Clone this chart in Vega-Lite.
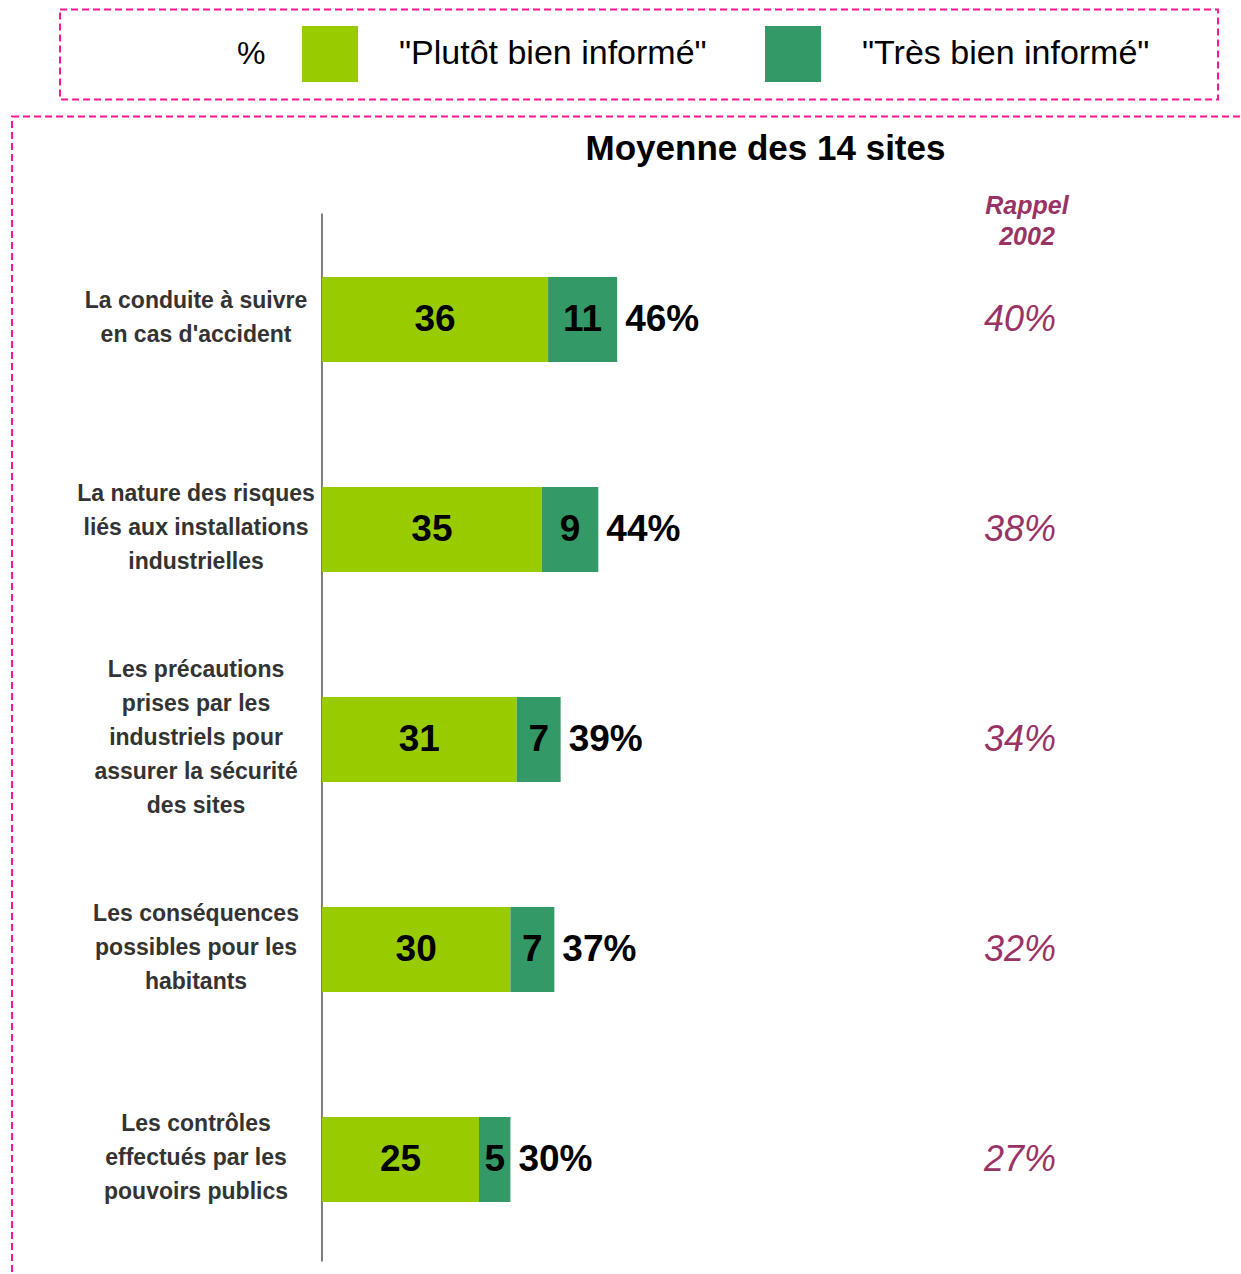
{
  "$schema": "https://vega.github.io/schema/vega-lite/v6.json",
  "width": 1241,
  "height": 1274,
  "autosize": {"type": "none"},
  "padding": 0,
  "background": "white",
  "config": {"view": {"stroke": null}, "font": "Liberation Sans"},
  "title": {
    "text": "Moyenne des 14 sites",
    "anchor": "middle",
    "orient": "top",
    "offset": 0,
    "baseline": "middle",
    "dx": 145,
    "dy": 184,
    "fontSize": 35,
    "fontWeight": "bold",
    "font": "Liberation Sans",
    "color": "black"
  },
  "data": {
    "values": [
      {"categorie": "La conduite à suivre\nen cas d'accident", "rang": 1, "plutot": 36, "tres": 11, "total": 0.46, "rappel": 0.40},
      {"categorie": "La nature des risques\nliés aux installations\nindustrielles", "rang": 2, "plutot": 35, "tres": 9, "total": 0.44, "rappel": 0.38},
      {"categorie": "Les précautions\nprises par les\nindustriels pour\nassurer la sécurité\ndes sites", "rang": 3, "plutot": 31, "tres": 7, "total": 0.39, "rappel": 0.34},
      {"categorie": "Les conséquences\npossibles pour les\nhabitants", "rang": 4, "plutot": 30, "tres": 7, "total": 0.37, "rappel": 0.32},
      {"categorie": "Les contrôles\neffectués par les\npouvoirs publics", "rang": 5, "plutot": 25, "tres": 5, "total": 0.30, "rappel": 0.27}
    ]
  },
  "encoding": {
    "x": {"type": "quantitative", "scale": {"domain": [-51.274, 146.338], "nice": false, "zero": false}, "axis": null},
    "y": {"type": "quantitative", "scale": {"domain": [-0.4978, 5.5212], "nice": false, "zero": false, "reverse": true}, "axis": null}
  },
  "layer": [
    {
      "data": {"values": [{}]},
      "mark": {"type": "rect", "fill": "transparent", "stroke": "#FF1493", "strokeWidth": 2, "strokeDash": [7, 4]},
      "encoding": {
        "x": {"datum": -41.72}, "x2": {"datum": 142.68},
        "y": {"datum": -0.4762}, "y2": {"datum": -0.0476}
      }
    },
    {
      "data": {"values": [{}]},
      "mark": {"type": "rect", "fill": "transparent", "stroke": "#FF1493", "strokeWidth": 2, "strokeDash": [7, 4]},
      "encoding": {
        "x": {"datum": -49.36}, "x2": {"datum": 160},
        "y": {"datum": 0.0333}, "y2": {"datum": 7}
      }
    },
    {
      "data": {"values": [{}]},
      "mark": {"type": "rule", "color": "black", "strokeWidth": 1},
      "encoding": {
        "x": {"datum": 0},
        "y": {"datum": 0.4952}, "y2": {"datum": 5.4857}
      }
    },
    {
      "transform": [
        {"fold": ["plutot", "tres"], "as": ["serie", "valeur"]},
        {"stack": "valeur", "groupby": ["rang"], "sort": [{"field": "serie"}], "as": ["v0", "v1"]}
      ],
      "mark": {"type": "bar", "height": 85},
      "encoding": {
        "x": {"field": "v0", "type": "quantitative"},
        "x2": {"field": "v1"},
        "y": {"field": "rang", "type": "quantitative"},
        "color": {
          "field": "serie",
          "type": "nominal",
          "scale": {"domain": ["plutot", "tres"], "range": ["#99CC00", "#339966"]},
          "legend": {
            "title": "%",
            "orient": "none",
            "legendX": 237,
            "legendY": 26,
            "direction": "horizontal",
            "titleOrient": "left",
            "titleFontSize": 32,
            "titleFontWeight": "normal",
            "titleColor": "black",
            "titleFont": "Liberation Sans",
            "titlePadding": 36,
            "symbolType": "square",
            "symbolSize": 3136,
            "symbolStrokeWidth": 0,
            "symbolOpacity": 1,
            "labelFontSize": 34,
            "labelFont": "Liberation Sans",
            "labelColor": "black",
            "labelOffset": 41,
            "labelLimit": 500,
            "columnPadding": 58,
            "labelExpr": "datum.value == 'plutot' ? '\"Plutôt bien informé\"' : '\"Très bien informé\"'"
          }
        }
      }
    },
    {
      "transform": [
        {"fold": ["plutot", "tres"], "as": ["serie", "valeur"]},
        {"stack": "valeur", "groupby": ["rang"], "sort": [{"field": "serie"}], "as": ["v0", "v1"]},
        {"fold": ["v0", "v1"], "as": ["bord", "pos"]}
      ],
      "mark": {"type": "text", "fontSize": 37, "fontWeight": "bold", "color": "black", "baseline": "middle", "align": "center"},
      "encoding": {
        "x": {"aggregate": "mean", "field": "pos", "type": "quantitative", "stack": null},
        "y": {"field": "rang", "type": "quantitative"},
        "detail": {"field": "serie"},
        "text": {"field": "valeur", "type": "quantitative"}
      }
    },
    {
      "transform": [
        {"fold": ["plutot", "tres"], "as": ["serie", "valeur"]},
        {"aggregate": [{"op": "sum", "field": "valeur", "as": "fin"}], "groupby": ["rang", "total"]}
      ],
      "mark": {"type": "text", "fontSize": 37, "fontWeight": "bold", "color": "black", "baseline": "middle", "align": "left", "dx": 8},
      "encoding": {
        "x": {"field": "fin", "type": "quantitative"},
        "y": {"field": "rang", "type": "quantitative"},
        "text": {"field": "total", "type": "quantitative", "format": ".0%"}
      }
    },
    {
      "mark": {
        "type": "text", "fontSize": 23, "fontWeight": "bold", "color": "#333333",
        "baseline": "middle", "align": "center", "lineBreak": "\n", "lineHeight": 34,
        "dy": {"expr": "-17 * (length(split(datum.categorie, '\\n')) - 1) - 2"}
      },
      "encoding": {
        "x": {"datum": -20.06},
        "y": {"field": "rang", "type": "quantitative"},
        "text": {"field": "categorie", "type": "nominal"}
      }
    },
    {
      "data": {"values": [{}]},
      "mark": {"type": "text", "text": ["Rappel", "2002"], "fontSize": 25, "fontWeight": "bold", "fontStyle": "italic", "color": "#993366", "baseline": "middle", "align": "center", "lineHeight": 31},
      "encoding": {
        "x": {"datum": 112.26},
        "y": {"datum": 0.4571}
      }
    },
    {
      "mark": {"type": "text", "fontSize": 36, "fontStyle": "italic", "color": "#993366", "baseline": "middle", "align": "center"},
      "encoding": {
        "x": {"datum": 111.15},
        "y": {"field": "rang", "type": "quantitative"},
        "text": {"field": "rappel", "type": "quantitative", "format": ".0%"}
      }
    }
  ]
}
